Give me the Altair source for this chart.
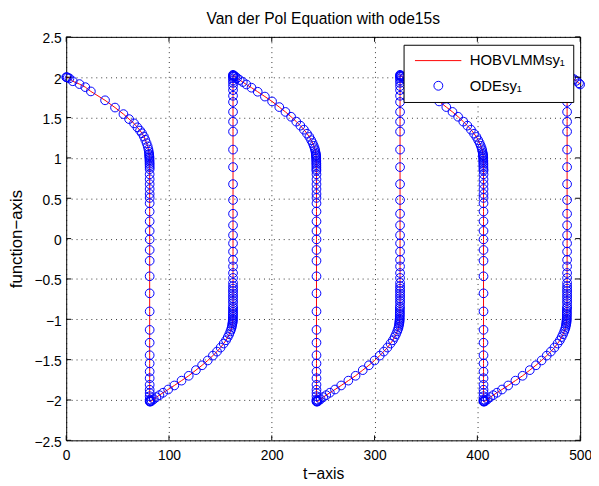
import altair as alt
import pandas as pd

# ---------------- data ----------------
series_names = ["HOBVLMMsy\u2081", "ODEsy\u2081"]
series_colors = ["#ff0000", "#0000ff"]
x_ticks = [0, 100, 200, 300, 400, 500]
y_ticks = [-2.5, -2, -1.5, -1, -0.5, 0, 0.5, 1, 1.5, 2, 2.5]

# times of the fast jumps and the stacks of solver points on them
jump_t = [81.2, 162.3, 243.5, 324.8, 406.0, 487.3]
drop_levels = [0.797, 0.736, 0.675, 0.614, 0.553, 0.504, 0.438, 0.336, 0.214, 0.095,
               -0.010, -0.141, -0.275, -0.467, -0.678, -0.902, -1.131, -1.290, -1.445,
               -1.547, -1.648, -1.730, -1.812, -1.873, -1.913, -1.953, -1.995, -2.010, -2.020]
rise_levels = [-0.80, -0.77, -0.74, -0.71, -0.68, -0.65, -0.62, -0.589, -0.548, -0.487,
               -0.426, -0.345, -0.263, -0.161, -0.059, 0.042, 0.165, 0.308, 0.479, 0.675,
               0.886, 1.103, 1.326, 1.449, 1.571, 1.693, 1.77, 1.84, 1.89, 1.93, 1.96,
               1.985, 2.005, 2.02, 2.03]

# first slow branch (from t = 0)
b1_t = [0.0, 0.5, 1.5, 3.2, 6.4, 12.9, 18.6, 24.0, 37.8, 47.5, 55.7, 61.2, 66.0, 69.2,
        71.8, 73.7, 75.6, 76.9, 78.2, 79.3, 80.0, 80.4, 80.7, 80.8, 80.9, 80.95, 81.0,
        81.05, 81.1, 81.12, 81.15, 81.18, 81.2]
b1_y = [2.0, 2.0, 1.996, 1.986, 1.950, 1.915, 1.877, 1.824, 1.714, 1.624, 1.543, 1.481,
        1.428, 1.379, 1.339, 1.306, 1.265, 1.225, 1.183, 1.143, 1.105, 1.075, 1.05, 1.035,
        1.02, 1.005, 0.99, 0.97, 0.95, 0.93, 0.91, 0.885, 0.86]

# magnitude of the points along every later slow branch (mirror images)
slow_mag = [2.015, 2.02, 2.01, 1.99, 1.965, 1.94, 1.91, 1.87, 1.82, 1.76, 1.70, 1.63,
            1.57, 1.51, 1.45, 1.40, 1.35, 1.30, 1.26, 1.22, 1.185, 1.15, 1.12, 1.095,
            1.07, 1.05, 1.035, 1.02, 1.005, 0.99, 0.97, 0.95, 0.93, 0.91, 0.885, 0.86, 0.84]
b2_t = [81.5, 82.0, 83.2, 85.2, 87.7, 90.7, 94.2, 99.2, 105.2, 112.2, 119.2, 126.2, 132.2,
        137.7, 142.7, 146.7, 150.2, 153.2, 155.5, 157.2, 158.6, 159.7, 160.6, 161.1, 161.5,
        161.75, 161.9, 162.0, 162.1, 162.15, 162.2, 162.23, 162.26, 162.28, 162.3, 162.3, 162.3]
b3_t = [162.6, 163.1, 164.3, 166.3, 168.8, 171.8, 175.3, 180.3, 186.3, 193.3, 200.3, 207.3,
        213.3, 218.8, 223.8, 227.8, 231.3, 234.3, 236.6, 238.3, 239.7, 240.8, 241.7, 242.2,
        242.6, 242.85, 243.0, 243.1, 243.2, 243.25, 243.3, 243.33, 243.36, 243.38, 243.4,
        243.4, 243.4]
b4_t = [243.8, 244.3, 245.5, 247.5, 250.0, 253.0, 256.5, 261.5, 267.5, 274.5, 281.5, 288.5,
        294.5, 300.0, 305.0, 309.0, 312.5, 315.5, 317.8, 319.5, 320.9, 322.0, 322.9, 323.4,
        323.8, 324.05, 324.2, 324.3, 324.4, 324.45, 324.5, 324.53, 324.56, 324.58, 324.6,
        324.65, 324.7]
b5_t = [325.1, 325.6, 326.8, 328.8, 331.3, 334.3, 337.8, 342.8, 348.8, 355.8, 362.8, 369.8,
        375.8, 381.3, 386.3, 390.3, 393.8, 396.8, 399.1, 400.8, 402.2, 403.3, 404.2, 404.7,
        405.1, 405.35, 405.5, 405.6, 405.7, 405.75, 405.8, 405.83, 405.86, 405.88, 405.9,
        405.95, 406.0]
b6_t = [406.3, 406.8, 408.0, 410.0, 412.5, 415.5, 419.0, 424.0, 430.0, 437.0, 444.0, 451.0,
        457.0, 462.5, 467.5, 471.5, 475.0, 478.0, 480.3, 482.0, 483.4, 484.5, 485.4, 485.9,
        486.3, 486.55, 486.7, 486.8, 486.9, 486.95, 487.0, 487.03, 487.06, 487.08, 487.1,
        487.2, 487.3]
branch_sign = [-1, 1, -1, 1, -1]
# last partial branch
b7_t = [487.6, 488.1, 489.3, 491.3, 494.1, 496.3, 498.9, 500.0]
b7_y = [2.015, 2.02, 2.01, 1.995, 1.975, 1.955, 1.925, 1.91]

# ---------------- assemble the table ----------------
ts, ys = list(b1_t), list(b1_y)
ts += [jump_t[0]] * len(drop_levels)
ys += drop_levels
for k, (bt, sg) in enumerate(zip([b2_t, b3_t, b4_t, b5_t, b6_t], branch_sign)):
    ts += bt
    ys += [sg * m for m in slow_mag]
    lv = rise_levels if sg < 0 else drop_levels
    ts += [jump_t[k + 1]] * len(lv)
    ys += lv
ts += b7_t
ys += b7_y

df = pd.DataFrame({"t": ts, "y": ys, "i": list(range(len(ts)))})
xt_df = pd.DataFrame({"v": x_ticks})
yt_df = pd.DataFrame({"v": y_ticks})
leg_df = pd.DataFrame({"series": series_names})

FONT = "Liberation Sans"
W, H = 521, 409

xscale = alt.Scale(domain=[0, 500], nice=False, zero=False)
yscale = alt.Scale(domain=[-2.5, 2.5], nice=False, zero=False)

xaxis = alt.Axis(values=x_ticks, format="d", grid=True, ticks=False, domain=False,
                 labelFlush=False, title="t\u2212axis", labelPadding=8, titlePadding=5,
                 titleFontSize=15.8)
yaxis = alt.Axis(values=y_ticks, format=".1~f", grid=True, ticks=False, domain=False,
                 labelFlush=False, labelOffset=2, title="function\u2212axis",
                 labelPadding=5, titlePadding=9, titleFontSize=17)

# legend symbols: a short red line, and a circle in the middle of the sample
line_path = "M-0.89,0.11H9.56"
circ_path = "M5.38,0A1,1,0,1,1,3.38,0A1,1,0,1,1,5.38,0Z"

legend = alt.Legend(
    title=None, orient="none", legendX=342, legendY=8,
    padding=8, rowPadding=10, strokeColor="black", fillColor="white",
    labelFont=FONT, labelFontSize=15.1, labelColor="black", labelOffset=44, labelLimit=400,
    symbolSize=81, symbolStrokeWidth=1, symbolOpacity=1, symbolFillColor="transparent",
)

x_enc = alt.X("t:Q", scale=xscale, axis=xaxis)
y_enc = alt.Y("y:Q", scale=yscale, axis=yaxis)

line = alt.Chart(df).mark_line(strokeWidth=1, color=series_colors[0]).encode(
    x=x_enc, y=y_enc, order="i:Q")
pts = alt.Chart(df).mark_point(shape="circle", filled=False, size=78, strokeWidth=1,
                               opacity=1, color=series_colors[1]).encode(x=x_enc, y=y_enc)

leg_layer = alt.Chart(leg_df).mark_point(filled=False, opacity=0).encode(
    x=alt.value(0), y=alt.value(0),
    color=alt.Color("series:N", scale=alt.Scale(domain=series_names, range=series_colors),
                    legend=legend),
    shape=alt.Shape("series:N", scale=alt.Scale(domain=series_names,
                                                range=[line_path, circ_path]),
                    legend=legend),
)

tick_x_bottom = alt.Chart(xt_df).mark_rule(color="black", strokeWidth=1).encode(
    x=alt.X("v:Q", scale=xscale, axis=xaxis), y=alt.value(H), y2=alt.value(H - 5))
tick_x_top = alt.Chart(xt_df).mark_rule(color="black", strokeWidth=1).encode(
    x=alt.X("v:Q", scale=xscale, axis=xaxis), y=alt.value(0), y2=alt.value(5))
tick_y_left = alt.Chart(yt_df).mark_rule(color="black", strokeWidth=1).encode(
    y=alt.Y("v:Q", scale=yscale, axis=yaxis), x=alt.value(0), x2=alt.value(5))
tick_y_right = alt.Chart(yt_df).mark_rule(color="black", strokeWidth=1).encode(
    y=alt.Y("v:Q", scale=yscale, axis=yaxis), x=alt.value(W), x2=alt.value(W - 5))

chart = alt.layer(line, pts, tick_x_bottom, tick_x_top, tick_y_left, tick_y_right,
                  leg_layer).properties(
    width=W, height=H,
    title=alt.TitleParams("Van der Pol Equation with ode15s", font=FONT, fontSize=15.8,
                          fontWeight="normal", color="black", offset=4),
    autosize="none",
    padding={"left": 59, "top": 26, "right": 11, "bottom": 42},
).configure_view(stroke="black", strokeWidth=1).configure_axis(
    labelFont=FONT, labelFontSize=14, labelColor="black",
    titleFont=FONT, titleFontWeight="normal", titleColor="black",
    gridColor="black", gridDash=[1, 4], gridWidth=1, gridOpacity=0.8,
)

chart.save("out.html", embed_options={"renderer": "svg", "actions": False})
